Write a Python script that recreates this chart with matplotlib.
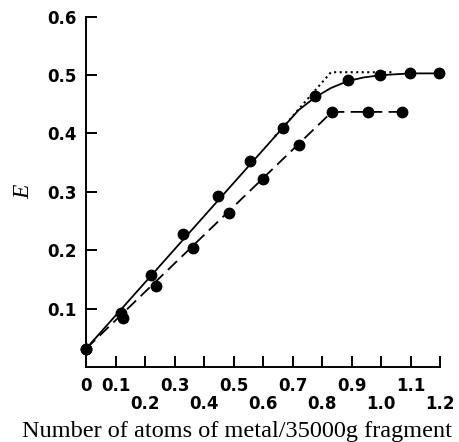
import matplotlib.pyplot as plt
from matplotlib.ticker import FixedLocator

# measured points (upper curve, solid)
solid_x = [0.0, 0.12, 0.22, 0.33, 0.446, 0.554, 0.667, 0.776, 0.888, 0.997, 1.099, 1.197]
solid_y = [0.031, 0.093, 0.157, 0.228, 0.293, 0.353, 0.410, 0.464, 0.491, 0.500, 0.503, 0.503]
# line drawn through the upper points
solid_line_x = [0.0, 0.667, 0.72, 0.776, 0.83, 0.888, 0.94, 1.0, 1.1, 1.2]
solid_line_y = [0.031, 0.410, 0.440, 0.462, 0.478, 0.490, 0.496, 0.500, 0.503, 0.503]

# lower curve, dashed
dashed_x = [0.0, 0.125, 0.237, 0.363, 0.483, 0.599, 0.720, 0.833, 0.957, 1.069]
dashed_y = [0.031, 0.083, 0.138, 0.203, 0.264, 0.322, 0.380, 0.437, 0.436, 0.436]
dashed_line_x = [0.0, 0.833, 1.069]
dashed_line_y = [0.031, 0.437, 0.437]

# dotted extrapolation
dotted_x = [0.64, 0.83, 1.04]
dotted_y = [0.395, 0.505, 0.505]

xticks_top = [0.0, 0.1, 0.3, 0.5, 0.7, 0.9, 1.1]
xlabels_top = ["0", "0.1", "0.3", "0.5", "0.7", "0.9", "1.1"]
xticks_bot = [0.2, 0.4, 0.6, 0.8, 1.0, 1.2]
xlabels_bot = ["0.2", "0.4", "0.6", "0.8", "1.0", "1.2"]
yticks = [0.1, 0.2, 0.3, 0.4, 0.5, 0.6]
ylabels = ["0.1", "0.2", "0.3", "0.4", "0.5", "0.6"]

fig = plt.figure(figsize=(4.6, 4.42), dpi=100)
ax = fig.add_axes([0.187, 0.170, 0.770, 0.792])

ax.plot(solid_line_x, solid_line_y, "-", color="black", lw=1.3)
ax.plot(dashed_line_x, dashed_line_y, color="black", lw=1.3, dashes=(7, 3.5))
ax.plot(dotted_x, dotted_y, ":", color="black", lw=1.5)
ax.plot(solid_x, solid_y, "o", color="black", ms=7.5, clip_on=False)
ax.plot(dashed_x, dashed_y, "o", color="black", ms=7.5, clip_on=False)

ax.set_xlim(0, 1.2)
ax.set_ylim(0, 0.6)
for s in ["top", "right"]:
    ax.spines[s].set_visible(False)
for s in ["left", "bottom"]:
    ax.spines[s].set_linewidth(1.4)

tickfont = dict(family="DejaVu Sans", weight="bold", size=12)
ax.set_xticks(xticks_top)
ax.set_xticklabels(xlabels_top, fontdict=tickfont)
ax.xaxis.set_minor_locator(FixedLocator(xticks_bot))
ax.set_xticks(xticks_bot, minor=True)
ax.set_xticklabels(xlabels_bot, minor=True, fontdict=tickfont)
ax.set_yticks(yticks)
ax.set_yticklabels(ylabels, fontdict=tickfont)

ax.tick_params(axis="both", which="both", direction="in", length=8, width=1.4)
ax.tick_params(axis="x", which="major", pad=7)
ax.tick_params(axis="x", which="minor", pad=20)
ax.tick_params(axis="y", pad=7)

# x label sits left of the axes centre in the original
fig.text(0.516, 0.024, "Number of atoms of metal/35000g fragment", family="Liberation Serif",
         fontsize=17.5, ha="center", va="center")
ax.set_ylabel("E", family="Liberation Serif", style="italic", fontsize=17, labelpad=9)

fig.savefig("out.png", dpi=100)
